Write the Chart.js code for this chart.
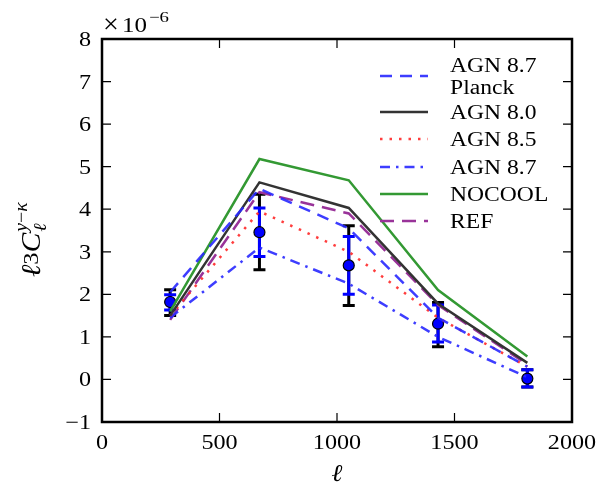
<!DOCTYPE html>
<html><head><meta charset="utf-8">
<script src="https://cdn.jsdelivr.net/npm/chart.js@4/dist/chart.umd.min.js"></script>
<style>html,body{margin:0;padding:0;background:#fff}#wrap{width:598px;height:486px}</style>
</head><body><div id="wrap"><canvas id="c" width="598" height="486"></canvas></div>
<script>
// multipole bins
const ells = [290, 670, 1050, 1430, 1810];
// model curves (units of 1e-6)
const agn87planck = [2.05, 4.48, 3.55, 1.45, 0.30];
const agn80 = [1.50, 4.63, 4.03, 1.78, 0.39];
const agn85 = [1.50, 3.95, 3.00, 1.45, 0.30];
const agn87 = [1.45, 3.10, 2.25, 1.00, 0.05];
const nocool = [1.60, 5.18, 4.68, 2.10, 0.54];
const ref = [1.40, 4.40, 3.90, 1.75, 0.35];
// measurements
const dataY = [1.82, 3.46, 2.68, 1.31, 0.02];
const errBlackLo = [1.50, 2.58, 1.74, 0.77, -0.18];
const errBlackHi = [2.11, 4.35, 3.61, 1.81, 0.23];
const errBlueLo = [1.63, 2.89, 2.00, 0.88, -0.18];
const errBlueHi = [1.99, 4.03, 3.36, 1.75, 0.23];
const xTicks = [0, 500, 1000, 1500, 2000];
const yTicks = [-1, 0, 1, 2, 3, 4, 5, 6, 7, 8];

const FONT = "'Liberation Serif', 'DejaVu Serif', serif";
const pts = arr => arr.map((v, i) => ({x: ells[i], y: v}));
function line(label, arr, color, dash) {
  return {label, data: pts(arr), borderColor: color, backgroundColor: color, borderWidth: 2.5,
    borderDash: dash, pointRadius: 0, fill: false, tension: 0, showLine: true, type: 'line'};
}
const datasets = [
  line('AGN 8.7\nPlanck', agn87planck, 'rgba(40,40,255,0.9)', [12, 8]),
  line('AGN 8.0', agn80, '#333333', []),
  line('AGN 8.5', agn85, 'rgba(255,40,40,0.9)', [2.5, 7]),
  line('AGN 8.7', agn87, 'rgba(40,40,255,0.9)', [10, 6, 2.5, 6]),
  line('NOCOOL', nocool, '#339933', []),
  line('REF', ref, '#993399', [14, 8]),
  {label: 'data', type: 'scatter', data: pts(dataY), pointRadius: 5.5, pointBackgroundColor: '#0000ff',
   pointBorderColor: '#000', pointBorderWidth: 1.2, showLine: false, isData: true}
];

// draw text stretched horizontally by sx (Computer-Modern-like width)
function txt(ctx, s, x, y, sx, align) {
  const w = ctx.measureText(s).width * sx;
  let x0 = x;
  if (align === 'center') x0 = x - w / 2; else if (align === 'right') x0 = x - w;
  ctx.save(); ctx.textAlign = 'left'; ctx.translate(x0, y); ctx.scale(sx, 1); ctx.fillText(s, 0, 0); ctx.restore();
  return w;
}

const custom = {
  id: 'custom',
  beforeDatasetDraw(chart, args) {
    const ds = chart.data.datasets[args.index];
    if (!ds.isData) return;
    const ctx = chart.ctx, xs = chart.scales.x, ys = chart.scales.y;
    const bar = (lo, hi, color) => {
      ctx.save(); ctx.strokeStyle = color; ctx.lineWidth = 3;
      for (let i = 0; i < ells.length; i++) {
        const px = xs.getPixelForValue(ells[i]);
        const a = ys.getPixelForValue(lo[i]), b = ys.getPixelForValue(hi[i]);
        ctx.beginPath(); ctx.moveTo(px, a); ctx.lineTo(px, b);
        ctx.moveTo(px - 6, a); ctx.lineTo(px + 6, a);
        ctx.moveTo(px - 6, b); ctx.lineTo(px + 6, b); ctx.stroke();
      }
      ctx.restore();
    };
    bar(errBlackLo, errBlackHi, '#000');
    bar(errBlueLo, errBlueHi, '#0000ff');
  },
  afterDraw(chart) {
    const ctx = chart.ctx, xs = chart.scales.x, ys = chart.scales.y, a = chart.chartArea;
    ctx.save();
    // frame
    ctx.strokeStyle = '#000'; ctx.lineWidth = 2.5;
    ctx.strokeRect(a.left, a.top, a.right - a.left, a.bottom - a.top);
    // inward ticks
    ctx.lineWidth = 1.2;
    ctx.beginPath();
    xTicks.forEach(v => { const p = xs.getPixelForValue(v);
      ctx.moveTo(p, a.bottom); ctx.lineTo(p, a.bottom - 9);
      ctx.moveTo(p, a.top); ctx.lineTo(p, a.top + 9); });
    yTicks.forEach(v => { const p = ys.getPixelForValue(v);
      ctx.moveTo(a.left, p); ctx.lineTo(a.left + 9, p);
      ctx.moveTo(a.right, p); ctx.lineTo(a.right - 9, p); });
    ctx.stroke();
    // tick labels
    ctx.fillStyle = '#000'; ctx.font = '21px ' + FONT;
    ctx.textBaseline = 'alphabetic';
    xTicks.forEach(v => txt(ctx, String(v), xs.getPixelForValue(v), a.bottom + 27, 1.15, 'center'));
    yTicks.forEach(v => txt(ctx, v < 0 ? '\u2212' + Math.abs(v) : String(v), a.left - 11, ys.getPixelForValue(v) + 7, 1.15, 'right'));
    // offset text
    ctx.font = '28px ' + FONT; txt(ctx, '\u00d7', 103, 33, 1.0, 'left');
    ctx.font = '20px ' + FONT; txt(ctx, '10', 122, 32, 1.25, 'left');
    ctx.font = '15px ' + FONT; txt(ctx, '\u22126', 149, 22, 1.25, 'left');
    // x title
    ctx.font = 'italic 24px ' + FONT;
    txt(ctx, '\u2113', (a.left + a.right) / 2, 481, 1.1, 'center');
    // y title
    ctx.save(); ctx.translate(40, 233); ctx.rotate(-Math.PI / 2);
    const total = 88;
    let x = -total / 2;
    ctx.font = 'italic 27px ' + FONT; x += txt(ctx, '\u2113', x, 0, 1.1, 'left');
    ctx.font = '22px ' + FONT; x += txt(ctx, '3', x, -2, 1.1, 'left');
    ctx.font = 'italic 27px ' + FONT; x += txt(ctx, 'C', x, 0, 1.1, 'left') + 1;
    ctx.font = 'italic 18px ' + FONT;
    txt(ctx, '\u2113', x, 6, 1.1, 'left');
    ctx.font = 'italic 18px ' + FONT; let x2 = x + txt(ctx, 'y', x, -13, 1.1, 'left');
    ctx.font = '18px ' + FONT; x2 += txt(ctx, '\u2212', x2, -13, 1.1, 'left');
    ctx.font = 'italic 18px ' + FONT; txt(ctx, '\u03ba', x2, -13, 1.1, 'left');
    ctx.restore();
    // legend
    const rows = [76, 112, 139, 167, 194, 221];
    ctx.font = '20px ' + FONT; ctx.textBaseline = 'alphabetic';
    for (let i = 0; i < 6; i++) {
      const ds = chart.data.datasets[i];
      ctx.strokeStyle = ds.borderColor; ctx.lineWidth = 2.5; ctx.setLineDash(ds.borderDash);
      ctx.beginPath(); ctx.moveTo(380, rows[i]); ctx.lineTo(428, rows[i]); ctx.stroke();
      ctx.setLineDash([]);
      const lines = ds.label.split('\n');
      if (lines.length === 2) { txt(ctx, lines[0], 450, rows[i] - 4, 1.18, 'left'); txt(ctx, lines[1], 450, rows[i] + 18, 1.18, 'left'); }
      else txt(ctx, lines[0], 450, rows[i] + 7, 1.18, 'left');
    }
    ctx.restore();
  }
};

new Chart(document.getElementById('c'), {
  type: 'scatter',
  data: {datasets},
  options: {
    responsive: false, animation: false, devicePixelRatio: 1,
    layout: {padding: {top: 39, right: 26, left: 0, bottom: 0}},
    plugins: {legend: {display: false}, tooltip: {enabled: false}},
    scales: {
      x: {type: 'linear', min: 0, max: 2000, grid: {display: false}, border: {display: false},
          ticks: {display: false, stepSize: 500}, afterFit: s => { s.height = 64; }},
      y: {type: 'linear', min: -1, max: 8, grid: {display: false}, border: {display: false},
          ticks: {display: false, stepSize: 1}, afterFit: s => { s.width = 102; }}
    }
  },
  plugins: [custom]
});
</script></body></html>
